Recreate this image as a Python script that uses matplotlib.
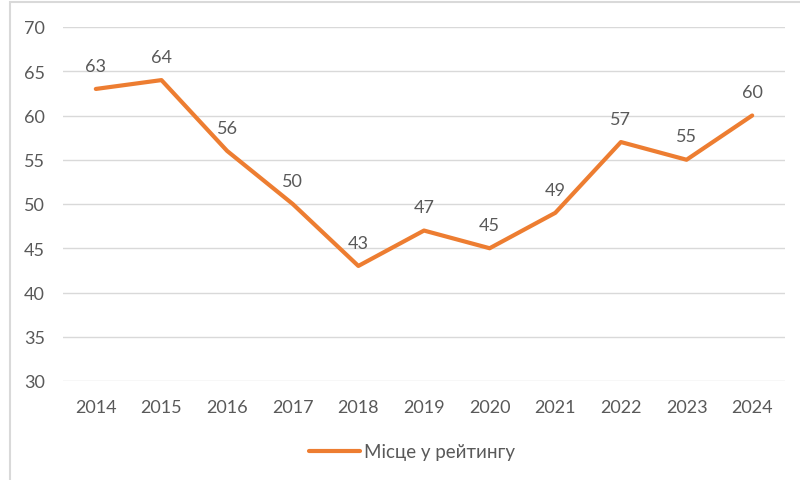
import matplotlib
matplotlib.use("Agg")
import matplotlib.pyplot as plt
from matplotlib.patches import Rectangle
from matplotlib.lines import Line2D

years = ["2014", "2015", "2016", "2017", "2018", "2019", "2020", "2021", "2022", "2023", "2024"]
ranks = [63, 64, 56, 50, 43, 47, 45, 49, 57, 55, 60]
yticks = [30, 35, 40, 45, 50, 55, 60, 65, 70]
series_name = "Місце у рейтингу"

plt.rcParams['font.family'] = ['Lato', 'DejaVu Sans']
txt = '#595959'
orange = '#ED7D31'
fs = 13

fig = plt.figure(figsize=(8, 4.81), dpi=100)
fig.patches.append(Rectangle((10/800, -0.1), 1.2, 1 - 3/481 + 0.1, transform=fig.transFigure,
                             fill=False, edgecolor='#D9D9D9', linewidth=1.5))
ax = fig.add_axes([63/800, 1 - 382/481, (785 - 63)/800, (382 - 28)/481])

x = list(range(len(years)))
ax.plot(x, ranks, color=orange, linewidth=3, solid_capstyle='round', solid_joinstyle='round')
for xi, v in zip(x, ranks):
    ax.annotate(str(v), (xi, v), xytext=(0, 11), textcoords='offset points',
                ha='center', va='bottom', fontsize=fs, color=txt)

ax.set_xlim(-0.5, len(years) - 0.5)
ax.set_ylim(30, 70)
ax.set_yticks(yticks)
ax.set_xticks(x)
ax.set_xticklabels(years)
ax.grid(axis='y', color='#D9D9D9', linewidth=1)
ax.set_axisbelow(True)
for s in ax.spines.values():
    s.set_visible(False)
ax.tick_params(axis='both', length=0, labelsize=fs, labelcolor=txt)
ax.tick_params(axis='y', pad=13)
ax.tick_params(axis='x', pad=13)

handle = Line2D([], [], color=orange, linewidth=3, solid_capstyle='round')
fig.legend([handle], [series_name], loc='center', bbox_to_anchor=(412/800, 1 - 453/481),
           frameon=False, fontsize=13.5, labelcolor=txt, handlelength=2.7, handletextpad=0.2)

fig.savefig('out.png', dpi=100)
